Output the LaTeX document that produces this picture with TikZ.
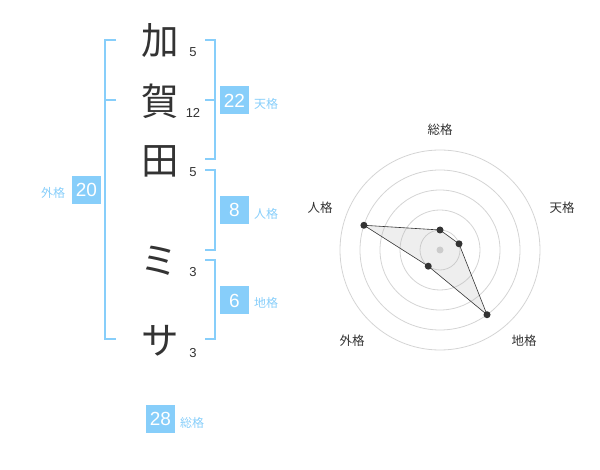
\documentclass[tikz,border=0pt]{standalone}
\usepackage{fontspec}
\setmainfont{Liberation Sans}
\newfontfamily\cjk{Noto Sans CJK JP}
\usetikzlibrary{calc}
\definecolor{sky}{RGB}{135,206,250}
\definecolor{ink}{RGB}{51,51,51}
\definecolor{ring}{RGB}{212,212,212}
\tikzset{
  bigchar/.style={inner sep=0pt, text=ink, font=\cjk\fontsize{37.5}{37.5}\selectfont},
  strokes/.style={inner sep=0pt, text=ink, font=\fontsize{13}{13}\selectfont},
  valbox/.style={fill=sky, text=white, minimum width=29pt, minimum height=28pt, inner sep=0pt, font=\fontsize{19}{19}\selectfont},
  kaku/.style={inner sep=0pt, text=sky, font=\cjk\fontsize{12}{12}\selectfont},
  bracket/.style={draw=sky, line width=2pt},
  rlabel/.style={inner sep=0pt, text=ink, font=\cjk\fontsize{12.5}{12.5}\selectfont},
  dot/.style={circle, fill=ink, inner sep=0pt, minimum size=7pt},
}
\begin{document}
\begin{tikzpicture}[x=1pt,y=-1pt]
\useasboundingbox (0,0) rectangle (600,470);
% characters
\node[bigchar] (c1) at (160,41) {加};
\node[bigchar] (c2) at (160,101) {賀};
\node[bigchar] (c3) at (160,161) {田};
\node[bigchar] (c4) at (159,261) {ミ};
\node[bigchar] (c5) at (160,341) {サ};
\node[strokes] (s1) at (193,52) {5};
\node[strokes] (s2) at (193,113) {12};
\node[strokes] (s3) at (193,172.5) {5};
\node[strokes] (s4) at (193,272) {3};
\node[strokes] (s5) at (193,353) {3};
% outer bracket
\coordinate (g1) at (116,40);
\coordinate (g2) at (116,339.5);
\coordinate (gm) at (116,100);
\draw[bracket] (g1) -- (105,40) -- (105,339.5) -- (g2);
\draw[bracket] (gm) -- (105,100);
\node[valbox] (gv) at (86.5,190) {20};
\node[kaku] (gl) at (53,193) {外格};
% ten
\coordinate (t1) at (205,40);
\coordinate (t2) at (205,159.5);
\coordinate (tm) at (205,100);
\draw[bracket] (t1) -- (214.5,40) -- (214.5,159.5) -- (t2);
\draw[bracket] (tm) -- (214.5,100);
\node[valbox] (tv) at (234.5,100.5) {22};
\node[kaku] (tl) at (266,104) {天格};
% jin
\coordinate (j1) at (205,170);
\coordinate (j2) at (205,250);
\draw[bracket] (j1) -- (214.5,170) -- (214.5,250) -- (j2);
\node[valbox] (jv) at (234.5,210) {8};
\node[kaku] (jl) at (266,214) {人格};
% chi
\coordinate (k1) at (205,260);
\coordinate (k2) at (205,339.5);
\draw[bracket] (k1) -- (214.5,260) -- (214.5,339.5) -- (k2);
\node[valbox] (kv) at (234.5,300.5) {6};
\node[kaku] (kl) at (266,303) {地格};
% sou
\node[valbox] (sv) at (160.5,419) {28};
\node[kaku] (sl) at (192,422.5) {総格};
% radar
\coordinate (c) at (440,250);
\foreach \r in {20,40,60,80,100} \draw[ring, line width=0.8pt] (c) circle[radius=\r pt];
\fill[ring] (c) circle[radius=3.5pt];
\coordinate (p1) at ($(c)+(90:20pt)$);
\coordinate (p2) at ($(c)+(18:20pt)$);
\coordinate (p3) at ($(c)+(-54:80pt)$);
\coordinate (p4) at ($(c)+(-126:20pt)$);
\coordinate (p5) at ($(c)+(162:80pt)$);
\draw[ink, line width=0.6pt, fill=black!30, fill opacity=0.22] (p1) -- (p2) -- (p3) -- (p4) -- (p5) -- cycle;
\foreach \p in {p1,p2,p3,p4,p5} \node[dot] at (\p) {};
\node[rlabel] (r1) at (440,130) {総格};
\node[rlabel] (r2) at (562,208) {天格};
\node[rlabel] (r3) at (524,341) {地格};
\node[rlabel] (r4) at (352,341) {外格};
\node[rlabel] (r5) at (320,208) {人格};
\end{tikzpicture}
\end{document}
